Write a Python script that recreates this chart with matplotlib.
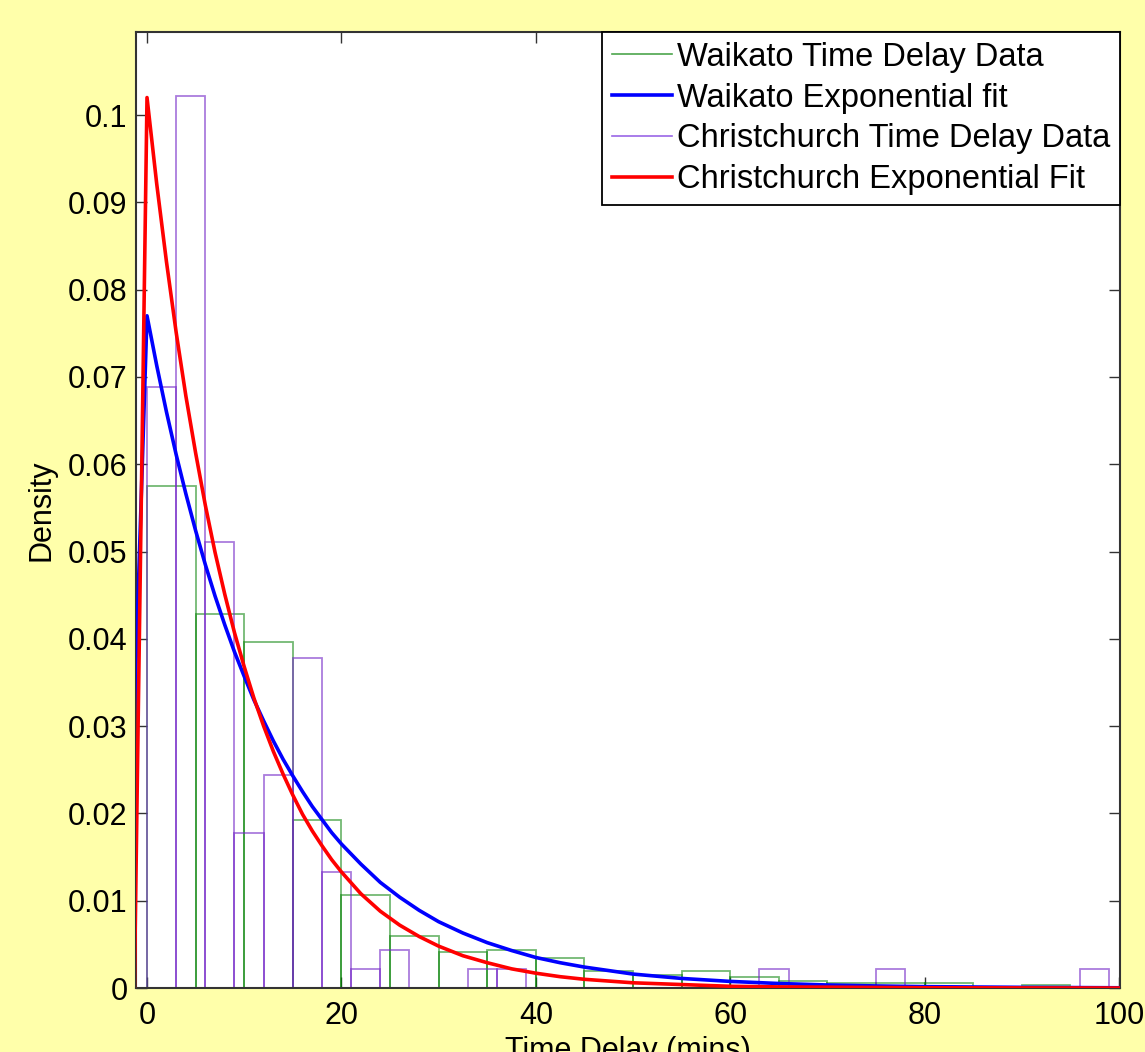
import matplotlib
matplotlib.use("Agg")
import matplotlib.pyplot as plt
from matplotlib.lines import Line2D
import numpy as np

plt.rcParams['font.family'] = ['Liberation Sans', 'DejaVu Sans']

# Waikato histogram (bin width 5, 0..100)
waikato_edges = [0, 5, 10, 15, 20, 25, 30, 35, 40, 45, 50, 55, 60, 65, 70, 75, 80, 85, 90, 95, 100]
waikato_density = [0.0575, 0.0428, 0.0396, 0.0193, 0.0107, 0.0060, 0.0041, 0.0043, 0.0034, 0.0020,
                   0.0015, 0.0019, 0.0013, 0.0008, 0.0006, 0.0006, 0.0006, 0.0, 0.0004, 0.0]

# Christchurch histogram (bin width 3, 0..99)
christ_edges = list(range(0, 100, 3))
christ_density = [0.0689, 0.1022, 0.0511, 0.0178, 0.0244, 0.0378, 0.0133, 0.0022, 0.0044, 0.0,
                  0.0, 0.0022, 0.0022, 0.0, 0.0, 0.0, 0.0, 0.0, 0.0, 0.0,
                  0.0, 0.0022, 0.0, 0.0, 0.0, 0.0022, 0.0, 0.0, 0.0, 0.0,
                  0.0, 0.0, 0.0022]

# Exponential fits
waikato_fit_x = [-2.2, 0, 1, 2, 3, 4, 5, 6, 7, 8, 9, 10, 11, 12, 13, 14, 15, 16, 17, 18, 19, 20,
                 22, 24, 26, 28, 30, 32.5, 35, 37.5, 40, 42.5, 45, 47.5, 50, 55, 60, 65, 70, 75, 80, 90, 100]
waikato_fit_y = [0.0, 0.0770, 0.0713, 0.0660, 0.0611, 0.0566, 0.0524, 0.0485, 0.0449, 0.0416, 0.0385,
                 0.0357, 0.0330, 0.0306, 0.0283, 0.0262, 0.0243, 0.0225, 0.0208, 0.0193, 0.0178, 0.0165,
                 0.0142, 0.0121, 0.0104, 0.0089, 0.0076, 0.0063, 0.0052, 0.0043, 0.0035, 0.0029, 0.0024,
                 0.0020, 0.0016, 0.0011, 0.00076, 0.00052, 0.00035, 0.00024, 0.00016, 0.00008, 0.00003]
christ_fit_x = [-1.3, 0, 1, 2, 3, 4, 5, 6, 7, 8, 9, 10, 11, 12, 13, 14, 15, 16, 17, 18, 19, 20,
                22, 24, 26, 28, 30, 32.5, 35, 37.5, 40, 42.5, 45, 47.5, 50, 55, 60, 65, 70, 80, 100]
christ_fit_y = [0.0, 0.1020, 0.0921, 0.0832, 0.0751, 0.0678, 0.0613, 0.0553, 0.0499, 0.0451, 0.0407,
                0.0368, 0.0332, 0.0300, 0.0271, 0.0245, 0.0221, 0.0199, 0.0180, 0.0163, 0.0147, 0.0133,
                0.0108, 0.0088, 0.0072, 0.0059, 0.0048, 0.0037, 0.0029, 0.0022, 0.0017, 0.0013, 0.0010,
                0.0008, 0.0006, 0.0004, 0.0002, 0.00013, 0.0001, 0.00003, 0.0]

xticks = [0, 20, 40, 60, 80, 100]
yticks = [0, 0.01, 0.02, 0.03, 0.04, 0.05, 0.06, 0.07, 0.08, 0.09, 0.1]
ytick_labels = ['0', '0.01', '0.02', '0.03', '0.04', '0.05', '0.06', '0.07', '0.08', '0.09', '0.1']

bg = '#FFFFAA'
green = (0.0, 0.5, 0.0, 0.55)
purple = (0.45, 0.15, 0.78, 0.6)

fig = plt.figure(figsize=(11.45, 10.52), dpi=100, facecolor=bg)
ax = fig.add_axes([0.1188, 0.0608, 0.8594, 0.9087])

w_left = waikato_edges[:-1]
w_width = np.diff(waikato_edges)
ax.bar(w_left, waikato_density, width=w_width, align='edge', facecolor='none',
       edgecolor=green, linewidth=1.3, zorder=2)

c_left = christ_edges[:len(christ_density)]
ax.bar(c_left, christ_density, width=3, align='edge', facecolor='none',
       edgecolor=purple, linewidth=1.3, zorder=2)

ax.plot(waikato_fit_x, waikato_fit_y, color='#0000FF', linewidth=2.6, zorder=3)
ax.plot(christ_fit_x, christ_fit_y, color='#FF0000', linewidth=2.6, zorder=4)

ax.set_xlim(-1.13, 100.1)
ax.set_ylim(0, 0.1095)
ax.set_xticks(xticks)
ax.set_xticklabels([str(t) for t in xticks])
ax.set_yticks(yticks)
ax.set_yticklabels(ytick_labels)
ax.tick_params(direction='in', length=8, width=1, colors='#333333', labelcolor='black',
               labelsize=22, top=True, right=True, pad=6)
ax.tick_params(axis='x', pad=9)
for s in ax.spines.values():
    s.set_color('#333333')
    s.set_linewidth(1.5)

ax.set_xlabel('Time Delay (mins)', fontsize=22, labelpad=4)
ax.set_ylabel('Density', fontsize=22, labelpad=8)

handles = [Line2D([], [], color=(0.3, 0.65, 0.3), linewidth=1.2),
           Line2D([], [], color='#0000FF', linewidth=2.6),
           Line2D([], [], color=(0.6, 0.4, 0.9), linewidth=1.2),
           Line2D([], [], color='#FF0000', linewidth=2.6)]
labels = ['Waikato Time Delay Data', 'Waikato Exponential fit',
          'Christchurch Time Delay Data', 'Christchurch Exponential Fit']
leg = ax.legend(handles, labels, loc='upper right', borderaxespad=0, fontsize=23.5,
                frameon=True, fancybox=False, framealpha=1, edgecolor='black',
                handlelength=1.85, handletextpad=0.15, labelspacing=0.3, borderpad=0.3)
leg.get_frame().set_linewidth(1.3)

fig.savefig('out.png', dpi=100, facecolor=bg)
